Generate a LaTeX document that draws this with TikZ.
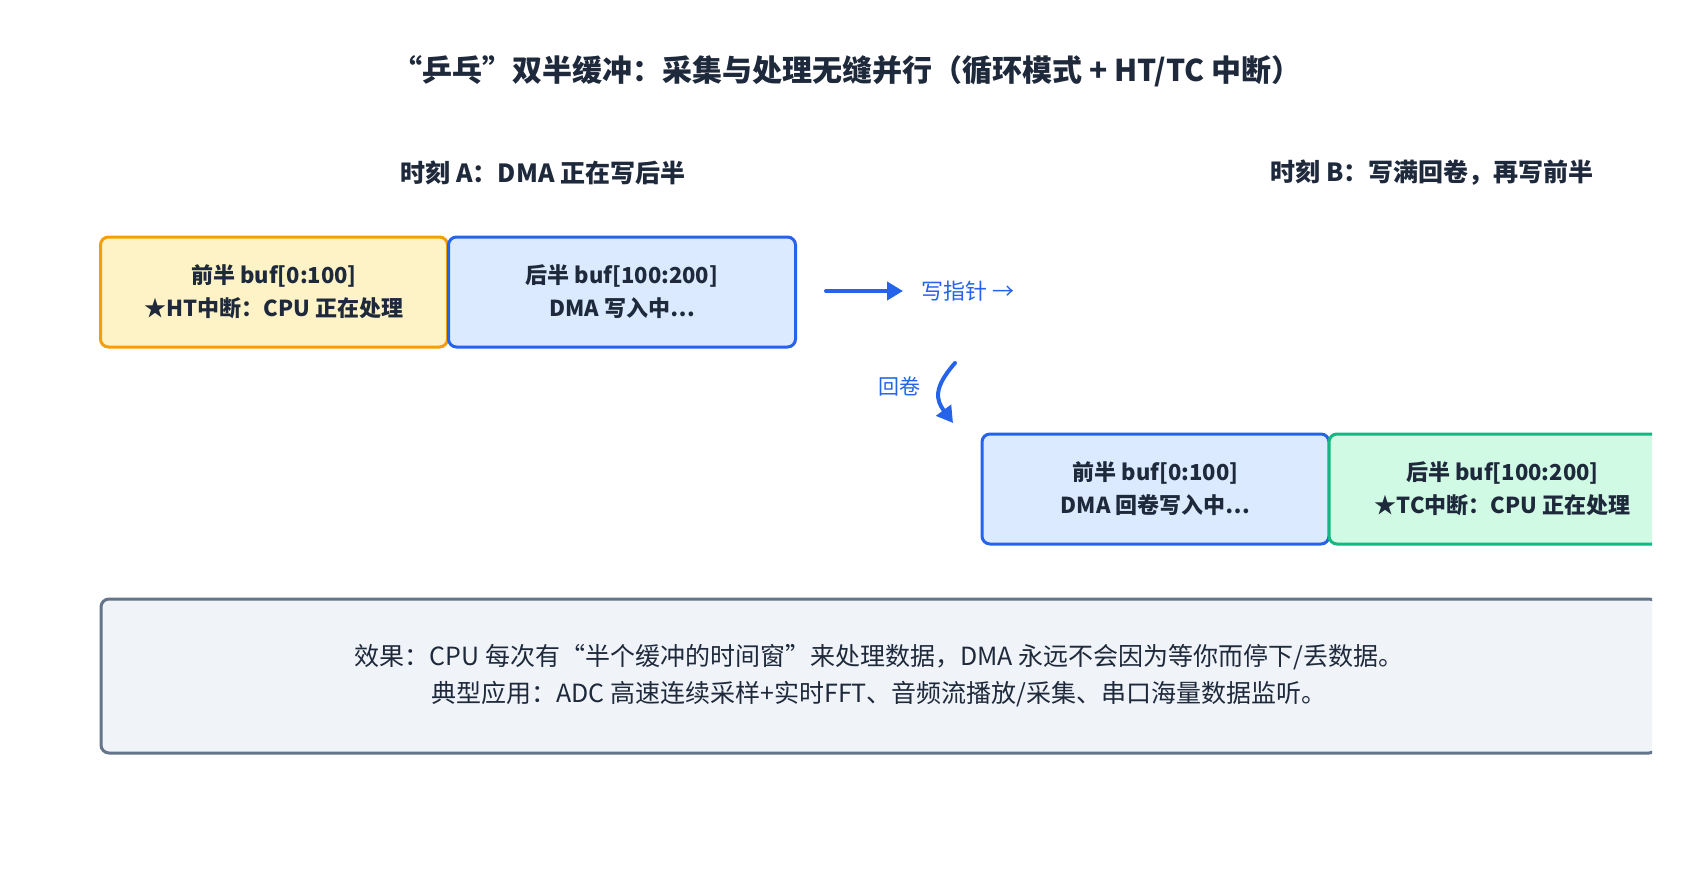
\documentclass[tikz,border=0pt]{standalone}
\usepackage{fontspec}
\setmainfont{Noto Sans CJK SC}
\usetikzlibrary{arrows.meta}
\definecolor{ink}{HTML}{1E293B}
\definecolor{ambfill}{HTML}{FEF3C7}
\definecolor{ambline}{HTML}{F59E0B}
\definecolor{bluefill}{HTML}{DBEAFE}
\definecolor{blueline}{HTML}{2563EB}
\definecolor{grnfill}{HTML}{D1FAE5}
\definecolor{grnline}{HTML}{10B981}
\definecolor{notefill}{HTML}{F0F4F9}
\definecolor{noteline}{HTML}{64748B}
\tikzset{
  bufbox/.style={draw, line width=3pt, rounded corners=8pt, minimum width=347pt, minimum height=110pt, inner sep=0pt, align=center, text=ink, font=\fontsize{22}{33}\selectfont\bfseries},
  amber/.style={bufbox, fill=ambfill, draw=ambline},
  bluebox/.style={bufbox, fill=bluefill, draw=blueline},
  greenbox/.style={bufbox, fill=grnfill, draw=grnline},
  heading/.style={text=ink, font=\fontsize{25}{28}\selectfont\bfseries},
  bluelabel/.style={text=blueline, font=\fontsize{21}{24}\selectfont},
  ptr/.style={draw=blueline, line width=4pt, line cap=round, -{Triangle[length=16pt,width=18pt]}},
}
\begin{document}
\begin{tikzpicture}[x=1pt,y=-1pt]
\useasboundingbox (0,0) rectangle (1692,880);
\fill[white] (0,0) rectangle (1692,880);
\begin{scope}
\clip (0,0) rectangle (1652,880);
\node[text=ink, font=\fontsize{30}{34}\selectfont\bfseries] (title) at (847,71) {“乒乓”双半缓冲：采集与处理无缝并行（循环模式 + HT/TC 中断）};
\node[heading] (ta) at (543,173) {时刻 A：DMA 正在写后半};
\node[heading] (tb) at (1432,173) {时刻 B：写满回卷，再写前半};
\node[amber] (a1) at (274,292) {前半 buf[0:100]\\★HT中断：CPU 正在处理};
\node[bluebox] (a2) at (622,292) {后半 buf[100:200]\\DMA 写入中⋯};
\node[bluebox] (b1) at (1155.5,489) {前半 buf[0:100]\\DMA 回卷写入中⋯};
\node[greenbox] (b2) at (1502.5,489) {后半 buf[100:200]\\★TC中断：CPU 正在处理};
\coordinate (p0) at (826,291);
\coordinate (p1) at (903,291);
\draw[ptr] (p0) -- (p1);
\node[bluelabel, anchor=west, font=\fontsize{22}{24}\selectfont] (plab) at (918,291) {写指针 →};
\coordinate (w0) at (955,363);
\coordinate (w1) at (953,423);
\draw[ptr, line width=4pt] (w0) .. controls (933,388) and (936,400) .. (w1);
\node[bluelabel] (wlab) at (899,386) {回卷};
\node[draw=noteline, fill=notefill, line width=3pt, rounded corners=8pt, minimum width=1556pt, minimum height=154pt, inner sep=0pt, align=center, text=ink, font=\fontsize{25}{37}\selectfont] (note) at (879,676) {效果：CPU 每次有“半个缓冲的时间窗”来处理数据，DMA 永远不会因为等你而停下/丢数据。\\典型应用：ADC 高速连续采样+实时FFT、音频流播放/采集、串口海量数据监听。};
\end{scope}
\end{tikzpicture}
\end{document}
